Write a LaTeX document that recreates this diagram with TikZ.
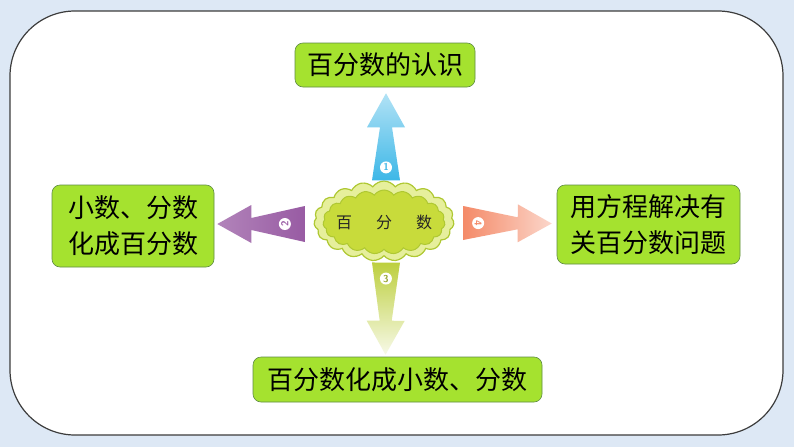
\documentclass[tikz,border=0pt]{standalone}
\usepackage{fontspec}
\usepackage{tikz}
\usetikzlibrary{calc,shapes.symbols}
\newfontfamily\cjk{Noto Sans CJK SC}
\definecolor{bgblue}{HTML}{DDE8F5}
\definecolor{framegray}{HTML}{3C3C3C}
\definecolor{boxgreen}{HTML}{A5E22F}
\definecolor{boxline}{HTML}{5F8C45}
\definecolor{cloudin}{HTML}{C8DB3B}
\definecolor{cloudout}{HTML}{E6EF9C}
\definecolor{cloudline}{HTML}{AFC832}
\definecolor{skyblue}{HTML}{3DB7E7}
\definecolor{plum}{HTML}{985BA3}
\definecolor{salmon}{HTML}{F48A68}
\definecolor{lime}{HTML}{BDCF3E}
\newcommand{\BoxFont}{\fontsize{26}{36}\selectfont}
\newcommand{\CloudFont}{\fontsize{16}{18}\selectfont}
\newcommand{\TagFont}{\fontsize{10}{11}\selectfont}
% tapered arrow: start, tip, half width at start, fill
\newcommand{\fatarrow}[4]{%
  \coordinate (neck) at ($(#2)!34pt!(#1)$);
  \path[#4] ($(#1)!#3!90:(#2)$) -- ($(neck)!6pt!-90:(#1)$) -- ($(neck)!19pt!-90:(#1)$)
    -- (#2) -- ($(neck)!19pt!90:(#1)$) -- ($(neck)!6pt!90:(#1)$) -- ($(#1)!#3!-90:(#2)$) -- cycle;}

\begin{document}
\begin{tikzpicture}[x=1pt,y=-1pt,
    topic/.style={draw=boxline,line width=0.6pt,fill=boxgreen,rounded corners=8pt,
      font=\cjk\BoxFont,align=center,inner sep=2pt},
    puff/.style={cloud,cloud puffs=19,cloud puff arc=110,cloud ignores aspect,draw=cloudline,line width=1.2pt},
    tag/.style={circle,fill=white,inner sep=0pt,minimum size=12pt,font=\sffamily\bfseries\TagFont}]
  \useasboundingbox (0,0) rectangle (794,447);
  \fill[bgblue] (0,0) rectangle (794,447);
  \draw[framegray,line width=1.2pt,fill=white,rounded corners=65pt] (10,11) rectangle (783,435);

  % the four topics
  \node[topic,minimum width=180,minimum height=44] (top) at (385,65) {百分数的认识};
  \node[topic,minimum width=162,minimum height=82] (left) at (133,226) {小数、分数\\化成百分数};
  \node[topic,minimum width=183,minimum height=79] (right) at (648.5,224.5) {用方程解决有\\关百分数问题};
  \node[topic,minimum width=289,minimum height=45] (bottom) at (397.5,379.5) {百分数化成小数、分数};

  % centre cloud
  \node[puff,fill=cloudout,minimum width=140,minimum height=80] (halo) at (384,221) {};
  \node[puff,fill=cloudin,line width=1pt,minimum width=122,minimum height=64] (core) at (384,222) {};
  \node[font=\cjk\CloudFont,text=black!85] (label) at (core.center) {百\hspace{24pt}分\hspace{24pt}数};

  % arrows out of the cloud
  \coordinate (upS) at ($(halo.north)+(2,0)$);
  \coordinate (upT) at ($(top.south)+(1,6)$);
  \coordinate (lfS) at ($(halo.west)+(-9,3)$);
  \coordinate (lfT) at ($(left.east)+(3,-2)$);
  \coordinate (rtS) at ($(halo.east)+(9,2)$);
  \coordinate (rtT) at ($(right.west)+(-5,-1)$);
  \coordinate (dnS) at ($(halo.south)+(2,6)$);
  \coordinate (dnT) at ($(bottom.north)+(-12,-2)$);
  \fatarrow{upS}{upT}{14pt}{top color=skyblue!40!white,bottom color=skyblue}
  \fatarrow{lfS}{lfT}{18pt}{left color=plum!75!white,right color=plum}
  \fatarrow{rtS}{rtT}{17pt}{left color=salmon,right color=salmon!35!white}
  \fatarrow{dnS}{dnT}{14pt}{top color=lime,bottom color=lime!12!white}

  \node[tag,text=skyblue] (t1) at ($(upS)!13pt!(upT)$) {1};
  \node[tag,text=plum,rotate=90] (t2) at ($(lfS)!20pt!(lfT)$) {2};
  \node[tag,text=lime!80!black] (t3) at ($(dnS)!16pt!(dnT)$) {3};
  \node[tag,text=salmon,rotate=-90] (t4) at ($(rtS)!15pt!(rtT)$) {4};
\end{tikzpicture}
\end{document}
